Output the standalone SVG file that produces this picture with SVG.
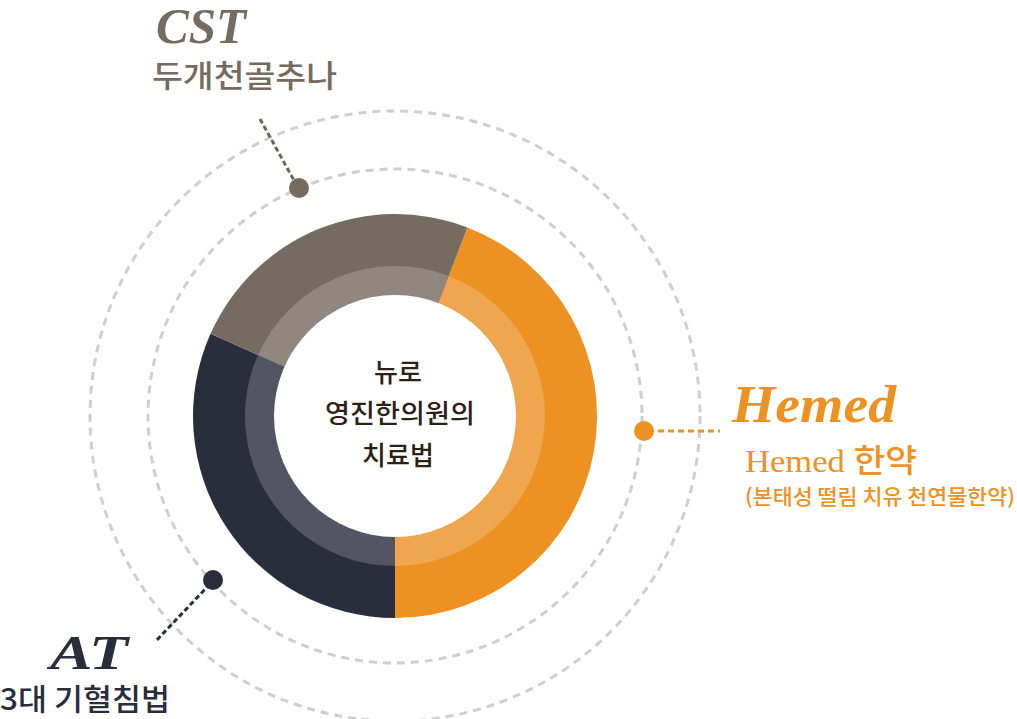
<svg xmlns="http://www.w3.org/2000/svg" width="1017" height="719" viewBox="0 0 1017 719">
<style>
.orbit{fill:none;stroke:#cfcfcf;stroke-width:3;stroke-dasharray:8 6}
.script{font-family:"Liberation Serif","DejaVu Serif",serif;font-style:italic;font-weight:bold}
.kr{font-family:"Noto Sans CJK KR","Noto Sans",sans-serif;font-weight:500}
.center{font-family:"Noto Sans CJK KR","Noto Sans",sans-serif;font-size:26px;fill:#2b2116;text-anchor:middle;font-weight:500}
</style>
<rect width="1017" height="719" fill="#ffffff"/>
<g id="orbits">
<circle class="orbit" cx="395" cy="416" r="247"/>
<circle class="orbit" cx="395" cy="416" r="305"/>
</g>
<g id="donut">
<path d="M395 416 L467.4 227.4 A202 202 0 0 1 395 618 Z" fill="#ed9123"/>
<path d="M395 416 L395 618 A202 202 0 0 1 210.5 333.8 Z" fill="#2a2d3c"/>
<path d="M395 416 L210.5 333.8 A202 202 0 0 1 467.4 227.4 Z" fill="#766b61"/>
<path d="M395 416 L448.8 276 A150 150 0 0 1 395 566 Z" fill="#f0a64e"/>
<path d="M395 416 L395 566 A150 150 0 0 1 258 355 Z" fill="#535562"/>
<path d="M395 416 L258 355 A150 150 0 0 1 448.8 276 Z" fill="#8f8780"/>
<circle cx="395" cy="416" r="121" fill="#ffffff"/>
<text class="center" x="398" y="382">뉴로</text>
<text class="center" x="400" y="423" textLength="150" lengthAdjust="spacingAndGlyphs">영진한의원의</text>
<text class="center" x="398" y="465">치료법</text>
</g>
<g id="connectors">
<line x1="260" y1="119" x2="296" y2="184" stroke="#6d6259" stroke-width="3" stroke-dasharray="5 3"/>
<line x1="648" y1="431" x2="720" y2="431" stroke="#ed9123" stroke-width="3" stroke-dasharray="6 4"/>
<line x1="210" y1="584" x2="155" y2="642" stroke="#2a2d3c" stroke-width="3" stroke-dasharray="5 3"/>
</g>
<g id="node-cst">
<circle cx="299" cy="188" r="10" fill="#766b61"/>
<text class="script" x="156" y="43" font-size="50" fill="#766b61" textLength="90" lengthAdjust="spacingAndGlyphs">CST</text>
<text class="kr" x="152" y="87" font-size="31" fill="#766b61" textLength="185" lengthAdjust="spacingAndGlyphs">두개천골추나</text>
</g>
<g id="node-hemed">
<circle cx="644" cy="431" r="10" fill="#ed9123"/>
<text class="script" x="732" y="422" font-size="52" fill="#ed9123" textLength="164" lengthAdjust="spacingAndGlyphs">Hemed</text>
<text x="745" y="472" font-size="32" fill="#ed9123" font-family="Liberation Serif, serif" textLength="172" lengthAdjust="spacingAndGlyphs">Hemed <tspan font-family="Noto Sans CJK KR, sans-serif" font-weight="500">한약</tspan></text>
<text class="kr" x="745" y="504" font-size="21" fill="#ed9123" textLength="270" lengthAdjust="spacingAndGlyphs">(본태성 떨림 치유 천연물한약)</text>
</g>
<g id="node-at">
<circle cx="213" cy="580" r="10" fill="#2a2d3c"/>
<text class="script" x="50" y="669" font-size="48" fill="#2a2d3c" textLength="78" lengthAdjust="spacingAndGlyphs">AT</text>
<text class="kr" x="0" y="710" font-size="30" fill="#2a2d3c" textLength="170" lengthAdjust="spacingAndGlyphs">3대 기혈침법</text>
</g>
</svg>
